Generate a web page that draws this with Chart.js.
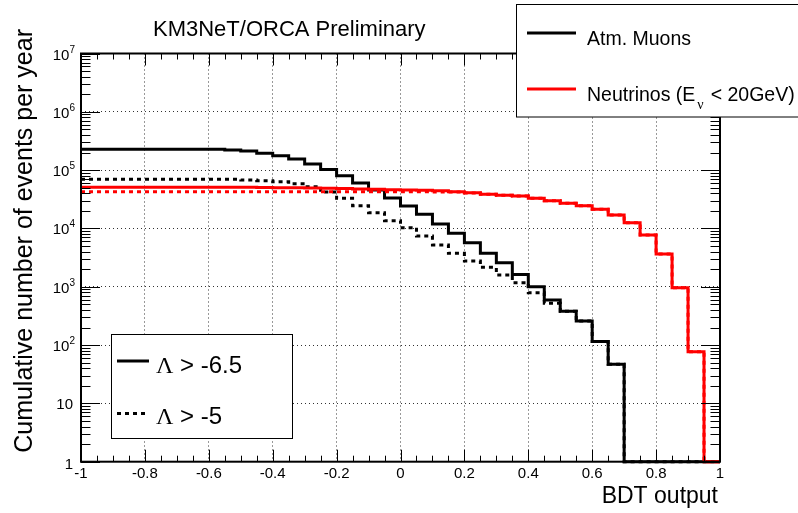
<!DOCTYPE html>
<html>
<head>
<meta charset="utf-8">
<script src="https://cdn.jsdelivr.net/npm/chart.js@4.4.1/dist/chart.umd.min.js"></script>
<style>
  html, body { margin: 0; padding: 0; background: #fff; }
  canvas { display: block; }
</style>
</head>
<body>
<canvas id="bdt" width="798" height="513"></canvas>
<script>
// Lower edges of the 40 BDT bins (width 0.05)
const binLow = [
  -1, -0.95, -0.9, -0.85, -0.8, -0.75, -0.7, -0.65, -0.6, -0.55,
  -0.5, -0.45, -0.4, -0.35, -0.3, -0.25, -0.2, -0.15, -0.1, -0.05,
  0, 0.05, 0.1, 0.15, 0.2, 0.25, 0.3, 0.35, 0.4, 0.45,
  0.5, 0.55, 0.6, 0.65, 0.7, 0.75, 0.8, 0.85, 0.9, 0.95
];

// Atm. muons, Lambda > -6.5 (black solid)
const muonsLoose = [
  2.27e5, 2.27e5, 2.27e5, 2.27e5, 2.27e5, 2.27e5, 2.27e5, 2.27e5, 2.27e5, 2.21e5,
  2.13e5, 1.94e5, 1.77e5, 1.55e5, 1.27e5, 1.03e5, 8.0e4, 6.0e4, 4.56e4, 3.32e4,
  2.43e4, 1.75e4, 1.19e4, 8.25e3, 5.69e3, 3.74e3, 2.58e3, 1.63e3, 1.0e3, 593,
  379, 258, 115, 47, 0, 0, 0, 0, 0, 0
];

// Atm. muons, Lambda > -5 (black dashed)
const muonsTight = [
  6.96e4, 6.96e4, 6.96e4, 6.96e4, 6.96e4, 6.96e4, 6.96e4, 6.96e4, 6.96e4, 6.96e4,
  6.77e4, 6.59e4, 6.33e4, 5.85e4, 5.2e4, 4.22e4, 3.29e4, 2.45e4, 1.86e4, 1.36e4,
  1.03e4, 7.41e3, 5.2e3, 3.74e3, 2.76e3, 2.15e3, 1.59e3, 1.17e3, 790, 520,
  379, 258, 115, 47, 0, 0, 0, 0, 0, 0
];

// Neutrinos (E_nu < 20 GeV), Lambda > -6.5 (red solid)
const nuLoose = [
  5.1e4, 5.1e4, 5.1e4, 5.1e4, 5.1e4, 5.1e4, 5.1e4, 5.1e4, 5.1e4, 5.1e4,
  5.07e4, 5.04e4, 5.0e4, 4.97e4, 4.93e4, 4.88e4, 4.83e4, 4.77e4, 4.7e4, 4.63e4,
  4.56e4, 4.5e4, 4.44e4, 4.27e4, 4.1e4, 3.85e4, 3.7e4, 3.6e4, 3.29e4, 2.99e4,
  2.7e4, 2.45e4, 2.13e4, 1.7e4, 1.25e4, 7.7e3, 3.64e3, 964, 77, 0
];

// Neutrinos (E_nu < 20 GeV), Lambda > -5 (red dashed)
const nuTight = [
  4.27e4, 4.27e4, 4.27e4, 4.27e4, 4.27e4, 4.27e4, 4.27e4, 4.27e4, 4.27e4, 4.27e4,
  4.27e4, 4.27e4, 4.27e4, 4.27e4, 4.27e4, 4.27e4, 4.27e4, 4.27e4, 4.27e4, 4.27e4,
  4.25e4, 4.25e4, 4.22e4, 4.2e4, 4.05e4, 3.85e4, 3.7e4, 3.6e4, 3.29e4, 2.99e4,
  2.7e4, 2.45e4, 2.13e4, 1.7e4, 1.25e4, 7.7e3, 3.64e3, 964, 77, 0
];

const xMajorTicks = [-1, -0.8, -0.6, -0.4, -0.2, 0, 0.2, 0.4, 0.6, 0.8, 1];
const xTickLabels = ['-1', '-0.8', '-0.6', '-0.4', '-0.2', '0', '0.2', '0.4', '0.6', '0.8', '1'];
const yDecades = [1, 10, 1e2, 1e3, 1e4, 1e5, 1e6, 1e7];
const yExponents = [0, 1, 2, 3, 4, 5, 6, 7];

const X_MIN = -1, X_MAX = 1, Y_MIN = 1, Y_MAX = 1e7;
const SANS = '"Liberation Sans", Arial, Helvetica, sans-serif';
const SERIF = '"Liberation Serif", "Times New Roman", serif';

// Histogram steps: one point per lower bin edge plus the closing edge.
// Empty bins sit on the bottom of the log axis, as ROOT draws them.
function toSteps(values) {
  const pts = values.map((v, i) => ({ x: binLow[i], y: v > 0 ? v : Y_MIN }));
  const last = values[values.length - 1];
  pts.push({ x: X_MAX, y: last > 0 ? last : Y_MIN });
  return pts;
}

function stepDataset(label, values, color, dash, order) {
  return {
    label,
    data: toSteps(values),
    borderColor: color,
    borderWidth: 3,
    borderDash: dash,
    stepped: 'before',
    pointRadius: 0,
    fill: false,
    clip: false,
    order,
  };
}

// ROOT style frame: inward ticks, tick labels, titles and the two legend boxes
const rootFrame = {
  id: 'rootFrame',
  afterDraw(chart) {
    const { ctx, chartArea: a, scales: { x, y } } = chart;
    ctx.save();

    // ticks on x (bottom and top)
    ctx.strokeStyle = '#000';
    ctx.lineWidth = 1;
    ctx.beginPath();
    binLow.concat([X_MAX]).forEach((v) => {
      const major = xMajorTicks.some((m) => Math.abs(m - v) < 1e-9);
      const len = major ? 12 : 6;
      const px = Math.round(x.getPixelForValue(v)) + 0.5;
      ctx.moveTo(px, a.bottom); ctx.lineTo(px, a.bottom - len);
      ctx.moveTo(px, a.top); ctx.lineTo(px, a.top + len);
    });
    // ticks on y (left and right)
    yDecades.forEach((d, k) => {
      const py = Math.round(y.getPixelForValue(d)) + 0.5;
      ctx.moveTo(a.left, py); ctx.lineTo(a.left + 19, py);
      ctx.moveTo(a.right, py); ctx.lineTo(a.right - 19, py);
      if (k === yDecades.length - 1) return;
      for (let m = 2; m <= 9; m++) {
        const pm = Math.round(y.getPixelForValue(d * m)) + 0.5;
        ctx.moveTo(a.left, pm); ctx.lineTo(a.left + 9.5, pm);
        ctx.moveTo(a.right, pm); ctx.lineTo(a.right - 9.5, pm);
      }
    });
    ctx.stroke();

    // frame
    ctx.lineWidth = 2;
    ctx.strokeRect(a.left, a.top, a.right - a.left, a.bottom - a.top);

    ctx.fillStyle = '#000';
    // x tick labels
    ctx.font = '15px ' + SANS;
    ctx.textAlign = 'center';
    ctx.textBaseline = 'alphabetic';
    xMajorTicks.forEach((v, i) => {
      ctx.fillText(xTickLabels[i], x.getPixelForValue(v), a.bottom + 16);
    });

    // y tick labels with exponents
    const right = a.left - 6;
    ctx.textAlign = 'left';
    yDecades.forEach((d, k) => {
      const py = y.getPixelForValue(d);
      const e = yExponents[k];
      if (e === 0) {
        ctx.font = '15px ' + SANS;
        ctx.fillText('1', right - 2 - ctx.measureText('1').width, py + 7);
      } else if (e === 1) {
        ctx.font = '15px ' + SANS;
        ctx.fillText('10', right - 2 - ctx.measureText('10').width, py + 6);
      } else {
        ctx.font = '10px ' + SANS;
        const we = ctx.measureText(String(e)).width;
        ctx.fillText(String(e), right - we, py - 1);
        ctx.font = '15px ' + SANS;
        const wb = ctx.measureText('10').width;
        ctx.fillText('10', right - we - wb, py + 6);
      }
    });

    // axis titles
    ctx.font = '23px ' + SANS;
    ctx.textAlign = 'right';
    ctx.fillText('BDT output', a.right - 2, 503);
    ctx.save();
    ctx.font = '25px ' + SANS;
    ctx.translate(32, 29);
    ctx.rotate(-Math.PI / 2);
    ctx.textAlign = 'right';
    ctx.fillText('Cumulative number of events per year', 0, 0);
    ctx.restore();

    // title
    ctx.font = '22px ' + SANS;
    ctx.textAlign = 'left';
    ctx.fillText('KM3NeT/ORCA Preliminary', 153, 36);

    // legend: samples
    ctx.fillStyle = '#fff';
    ctx.fillRect(516.5, 4.5, 290, 112.5);
    ctx.lineWidth = 1;
    ctx.strokeStyle = '#000';
    ctx.strokeRect(516.5, 4.5, 290, 112.5);
    ctx.lineWidth = 3;
    ctx.beginPath(); ctx.moveTo(527, 33); ctx.lineTo(576, 33); ctx.stroke();
    ctx.strokeStyle = '#ff0000';
    ctx.beginPath(); ctx.moveTo(527, 89); ctx.lineTo(576, 89); ctx.stroke();
    ctx.fillStyle = '#000';
    ctx.font = '19.5px ' + SANS;
    ctx.fillText('Atm. Muons', 587, 45);
    let tx = 587;
    ctx.fillText('Neutrinos (E', tx, 101);
    tx += ctx.measureText('Neutrinos (E').width + 2;
    ctx.font = '14px ' + SERIF;
    ctx.fillText('\u03bd', tx, 109);
    tx += ctx.measureText('\u03bd').width + 7;
    ctx.font = '19.5px ' + SANS;
    ctx.fillText('< 20GeV)', tx, 101);

    // legend: Lambda cuts
    ctx.fillStyle = '#fff';
    ctx.fillRect(111.5, 334.5, 181, 104);
    ctx.strokeStyle = '#000';
    ctx.lineWidth = 1;
    ctx.strokeRect(111.5, 334.5, 181, 104);
    ctx.lineWidth = 3;
    ctx.beginPath(); ctx.moveTo(117, 361); ctx.lineTo(149, 361); ctx.stroke();
    ctx.setLineDash([4, 4]);
    ctx.beginPath(); ctx.moveTo(117, 413.5); ctx.lineTo(149, 413.5); ctx.stroke();
    ctx.setLineDash([]);
    ctx.fillStyle = '#000';
    [['-6.5', 372.5], ['-5', 423.5]].forEach(([cut, base]) => {
      ctx.font = '24px ' + SERIF;
      ctx.fillText('\u039b', 156, base);
      const wl = ctx.measureText('\u039b').width;
      ctx.font = '24px ' + SANS;
      ctx.fillText(' > ' + cut, 156 + wl, base);
    });

    ctx.restore();
  },
};

new Chart(document.getElementById('bdt'), {
  type: 'line',
  data: {
    datasets: [
      stepDataset('Atm. Muons, \u039b > -6.5', muonsLoose, '#000000', [], 3),
      stepDataset('Atm. Muons, \u039b > -5', muonsTight, '#000000', [4, 4], 2),
      stepDataset('Neutrinos, \u039b > -6.5', nuLoose, '#ff0000', [], 1),
      stepDataset('Neutrinos, \u039b > -5', nuTight, '#ff0000', [4, 4], 0),
    ],
  },
  options: {
    responsive: false,
    animation: false,
    devicePixelRatio: 1,
    layout: { padding: { left: 81, right: 78, top: 53.5, bottom: 51.3 } },
    plugins: {
      legend: { display: false },
      tooltip: { enabled: false },
      title: { display: false },
    },
    scales: {
      x: {
        type: 'linear',
        min: X_MIN,
        max: X_MAX,
        afterBuildTicks: (s) => { s.ticks = xMajorTicks.map((v) => ({ value: v })); },
        ticks: { display: false },
        grid: { color: '#333', lineWidth: 1, drawTicks: false },
        border: { display: false, dash: [1, 3] },
      },
      y: {
        type: 'logarithmic',
        min: Y_MIN,
        max: Y_MAX,
        afterBuildTicks: (s) => { s.ticks = yDecades.map((v) => ({ value: v })); },
        ticks: { display: false },
        grid: { color: '#333', lineWidth: 1, drawTicks: false },
        border: { display: false, dash: [1, 3] },
      },
    },
  },
  plugins: [rootFrame],
});
</script>
</body>
</html>
